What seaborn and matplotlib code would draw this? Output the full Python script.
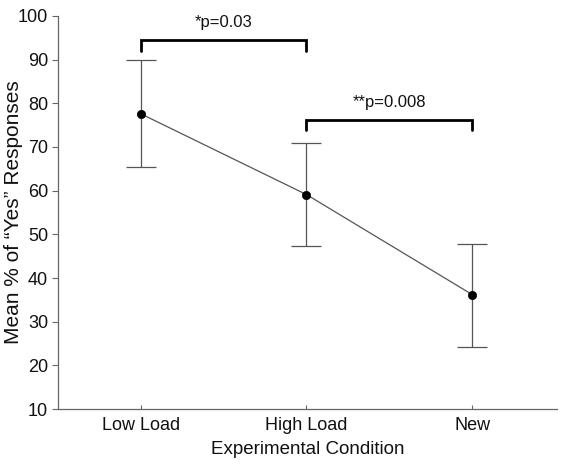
import numpy as np
import pandas as pd
import matplotlib
matplotlib.use("Agg")
import matplotlib.pyplot as plt
import seaborn as sns

# data
conditions = ["Low Load", "High Load", "New"]
means = [77.6, 59.1, 36.2]
err_low = [65.3, 47.4, 24.2]
err_high = [89.8, 70.9, 47.9]

# significance brackets: (from, to, bar height, tip height, label)
brackets = [(0, 1, 94.5, 92.0, "*p=0.03"),
            (1, 2, 76.2, 73.8, "**p=0.008")]

sns.set_style("white")
plt.rcParams['font.family'] = ['Liberation Sans', 'DejaVu Sans']

df = pd.DataFrame({'pos': np.arange(len(conditions)), 'cond': conditions, 'mean': means})

fig = plt.figure(figsize=(5.67, 4.67), dpi=100)
ax = fig.add_axes([0.102, 0.124, 0.88, 0.842])

ax.errorbar(df['pos'], df['mean'],
            yerr=[np.array(means) - np.array(err_low), np.array(err_high) - np.array(means)],
            fmt='none', ecolor='#555555', elinewidth=0.9, capsize=11, capthick=0.9)
sns.lineplot(data=df, x='pos', y='mean', color='#555555', linewidth=0.9, ax=ax)
sns.scatterplot(data=df, x='pos', y='mean', color='black', s=36, edgecolor='black', zorder=5, ax=ax)

for x0, x1, h, tip, lab in brackets:
    ax.plot([x0, x0, x1, x1], [tip, h, h, tip], color='black', lw=2, solid_joinstyle='miter')
    ax.text((x0 + x1) / 2, h + 2.3, lab, ha='center', va='bottom', fontsize=12, color='#111111')

ax.set_xlim(-0.5, 2.51)
ax.set_ylim(10, 100)
ax.set_yticks(np.arange(10, 101, 10))
ax.set_xticks(df['pos'])
ax.set_xticklabels(conditions)
ax.set_xlabel("Experimental Condition", fontsize=13.5, color='#111111')
ax.set_ylabel("Mean % of \u201cYes\u201d Responses", fontsize=15, color='#111111')
ax.yaxis.set_label_coords(-0.07, 0.5)
ax.xaxis.set_label_coords(0.5, -0.08)

for side in ['top', 'right']:
    ax.spines[side].set_visible(False)
for side in ['left', 'bottom']:
    ax.spines[side].set_color('#666666')
    ax.spines[side].set_linewidth(0.9)
ax.tick_params(axis='y', direction='out', length=4, color='#666666', labelsize=13, left=True,
               labelcolor='#111111', pad=3)
ax.tick_params(axis='x', direction='in', length=3, color='#666666', labelsize=13, bottom=True,
               labelcolor='#111111', pad=6)

plt.savefig("out.png", dpi=100)
